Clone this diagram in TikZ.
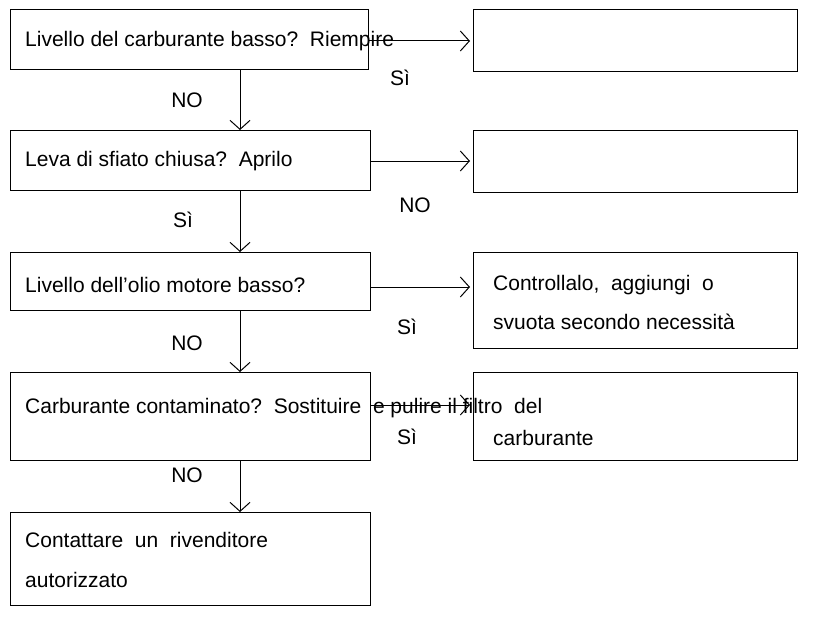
\documentclass[tikz,border=0pt]{standalone}
\usetikzlibrary{arrows.meta}
\usepackage{fontspec}
\setmainfont{Liberation Sans}
\begin{document}
\begin{tikzpicture}[x=1pt,y=-1pt,
 box/.style={draw,line width=1pt},
 arr/.style={->,line width=1pt,>={Straight Barb[length=9pt,width=20pt]}},
 t/.style={anchor=west,inner sep=0,font=\fontsize{21}{24}\selectfont},
 l/.style={inner sep=0,font=\fontsize{21}{24}\selectfont}]
\useasboundingbox (0,0) rectangle (817,642);
\draw[box] (10,10) rectangle (368,70);
\draw[box] (10,130) rectangle (370,190);
\draw[box] (10,252) rectangle (370,310);
\draw[box] (10,372) rectangle (370,460);
\draw[box] (10,512) rectangle (370,605);
\draw[box] (473,10) rectangle (797,72);
\draw[box] (473,130) rectangle (797,192);
\draw[box] (473,252) rectangle (797,348);
\draw[box] (473,372) rectangle (797,460);
\coordinate (d1a) at (240,70); \coordinate (d1b) at (240,130);
\coordinate (d2a) at (240,190); \coordinate (d2b) at (240,252);
\coordinate (d3a) at (240,310); \coordinate (d3b) at (240,372);
\coordinate (d4a) at (240,460); \coordinate (d4b) at (240,512);
\draw[arr] (d1a)--(d1b); \draw[arr] (d2a)--(d2b); \draw[arr] (d3a)--(d3b); \draw[arr] (d4a)--(d4b);
\coordinate (h1a) at (368,41); \coordinate (h1b) at (470,41);
\coordinate (h2a) at (370,161); \coordinate (h2b) at (470,161);
\coordinate (h3a) at (370,287); \coordinate (h3b) at (470,287);
\coordinate (h4a) at (370,405); \coordinate (h4b) at (470,405);
\draw[arr] (h1a)--(h1b); \draw[arr] (h2a)--(h2b); \draw[arr] (h3a)--(h3b); \draw[arr] (h4a)--(h4b);
\node[t] (a) at (25,41) {Livello del carburante basso?\ \ Riempire};
\node[t] (b) at (25,161) {Leva di sfiato chiusa?\ \ Aprilo};
\node[t] (c) at (25,285) {Livello dell'olio motore basso?};
\node[t] (d) at (25,408) {Carburante contaminato?\ \ Sostituire\ \ e pulire il filtro\ \ del};
\node[t] (d2) at (493,438) {carburante};
\node[t] (e) at (25,540) {Contattare\ \ un\ \ rivenditore};
\node[t] (e2) at (25,580) {autorizzato};
\node[t] (f) at (493,285) {Controllalo,\ \ aggiungi\ \ o};
\node[t] (f2) at (493,322) {svuota secondo necessità};
\node[l] (n1) at (187,100) {NO};
\node[l] (s1) at (400,78) {Sì};
\node[l] (s2) at (183,220) {Sì};
\node[l] (n2) at (415,205) {NO};
\node[l] (n3) at (187,343) {NO};
\node[l] (s3) at (407,327) {Sì};
\node[l] (s4) at (407,437) {Sì};
\node[l] (n4) at (187,475) {NO};
\end{tikzpicture}
\end{document}
